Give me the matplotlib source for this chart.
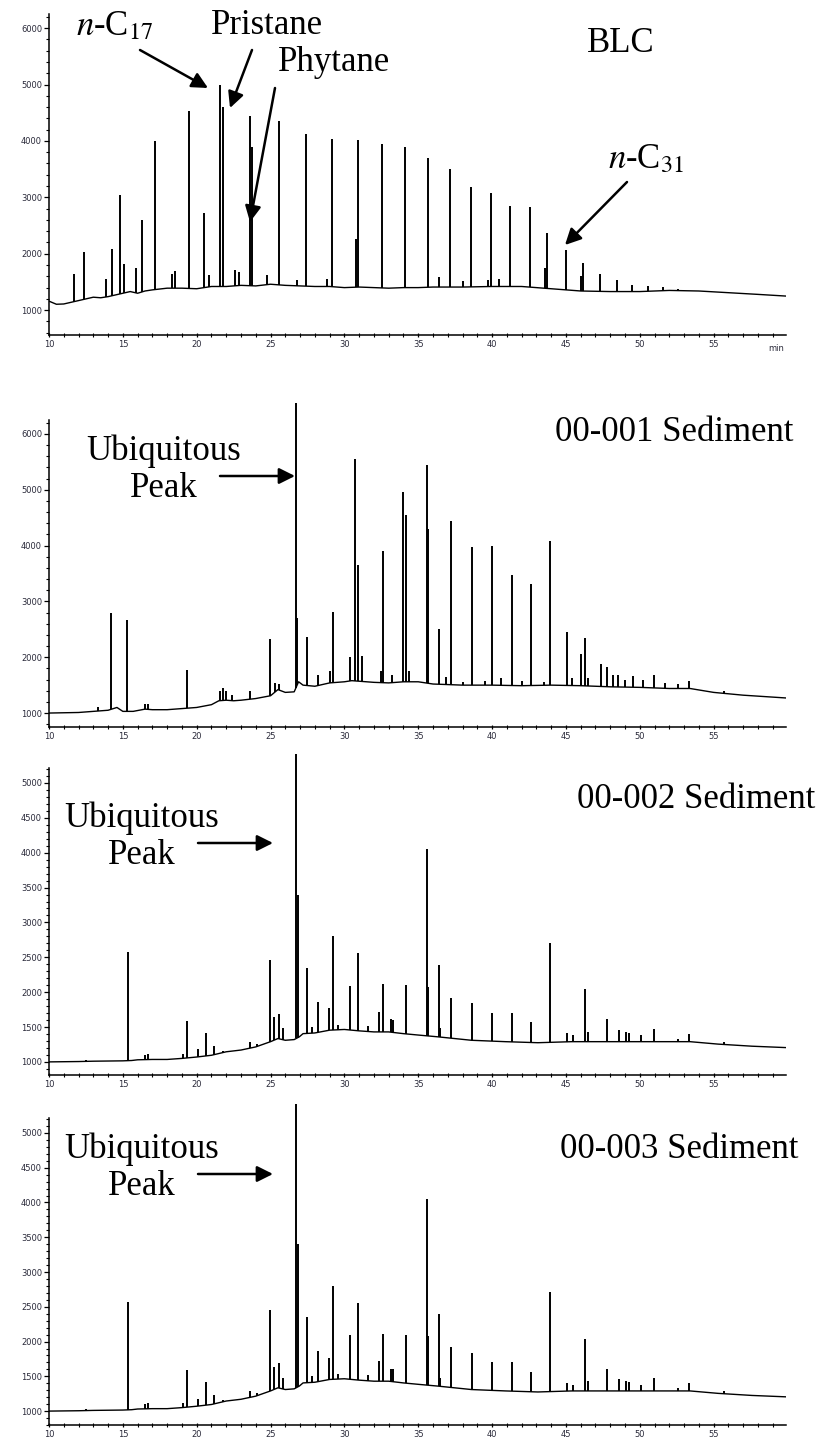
import numpy as np
import matplotlib
matplotlib.use("Agg")
import matplotlib.pyplot as plt
from matplotlib.ticker import MultipleLocator

plt.rcParams['mathtext.fontset'] = 'stix'

# ---------------- data ----------------
# Panel 1: BLC
blc_base_t = [10.0, 10.5, 11.0, 11.5, 12.0, 12.5, 13.0, 13.5, 14.0, 14.5, 15.0, 15.5, 16.0, 16.5,
              17.0, 18.0, 19.0, 20.0, 21.0, 22.0, 23.0, 24.0, 25.0, 26.0, 27.0, 28.0, 29.0, 30.0,
              31.0, 32.0, 33.0, 34.0, 35.0, 36.0, 38.0, 40.0, 42.0, 44.0, 46.0, 48.0, 50.0, 52.0,
              54.0, 56.0, 58.0, 59.9]
blc_base_y = [1160, 1105, 1110, 1140, 1170, 1200, 1230, 1220, 1240, 1270, 1300, 1330, 1300, 1340,
              1360, 1390, 1390, 1380, 1420, 1420, 1440, 1430, 1460, 1440, 1430, 1420, 1420, 1400,
              1410, 1400, 1390, 1400, 1400, 1410, 1410, 1420, 1420, 1380, 1340, 1330, 1330, 1350,
              1340, 1310, 1280, 1250]
blc_peak_t = [11.7, 12.4, 13.87, 14.25, 14.84, 15.1, 15.9, 16.33, 17.2, 18.3, 18.55, 19.46, 20.52,
              20.86, 21.6, 21.75, 22.6, 22.85, 23.64, 23.75, 24.77, 25.57, 26.8, 27.38, 28.8, 29.19,
              30.77, 30.93, 32.58, 34.1, 35.68, 36.4, 37.16, 38.0, 38.54, 39.7, 39.9, 40.5, 41.23,
              42.54, 43.6, 43.74, 44.98, 46.0, 46.16, 47.32, 48.43, 49.49, 50.53, 51.6, 52.57]
blc_peak_h = [1635, 2030, 1560, 2090, 3050, 1820, 1750, 2600, 4000, 1640, 1700, 4530, 2720,
              1620, 5000, 4600, 1720, 1680, 4450, 3900, 1620, 4350, 1540, 4120, 1560, 4040,
              2260, 4010, 3940, 3900, 3690, 1580, 3500, 1520, 3190, 1540, 3070, 1560, 2840,
              2835, 1740, 2370, 2070, 1610, 1835, 1635, 1530, 1450, 1420, 1410, 1380]

# Panel 2: 00-001 Sediment
s1_base_t = [10.0, 12.0, 13.5, 14.0, 14.6, 15.0, 15.7, 16.5, 17.0, 18.0, 19.0, 20.0, 21.0, 21.5,
             22.0, 22.5, 23.0, 24.0, 25.0, 25.5, 26.0, 26.6, 26.9, 27.2, 28.0, 29.0, 30.0, 30.5,
             31.5, 32.0, 33.0, 34.0, 35.0, 36.0, 38.0, 40.0, 42.0, 44.0, 46.0, 48.0, 50.0, 52.0,
             53.4, 55.0, 57.0, 59.9]
s1_base_y = [1000, 1010, 1040, 1050, 1100, 1030, 1030, 1070, 1060, 1060, 1080, 1100, 1150, 1220,
             1230, 1220, 1230, 1260, 1310, 1420, 1370, 1380, 1560, 1500, 1480, 1540, 1560, 1580,
             1560, 1550, 1540, 1560, 1560, 1520, 1500, 1500, 1490, 1500, 1490, 1470, 1460, 1440,
             1440, 1370, 1320, 1270]
s1_peak_t = [13.3, 14.2, 15.3, 16.5, 16.7, 19.35, 21.6, 21.8, 22.0, 22.4, 23.6, 24.93, 25.3, 25.6,
             26.72, 26.8, 27.5, 28.2, 29.0, 29.25, 30.37, 30.72, 30.95, 31.17, 32.5, 32.6, 33.2,
             34.0, 34.2, 34.4, 35.57, 35.68, 36.38, 36.9, 37.22, 38.0, 38.63, 39.5, 40.0, 40.6,
             41.32, 42.0, 42.63, 43.5, 43.9, 45.05, 45.4, 46.0, 46.28, 46.5, 47.36, 47.75, 48.2,
             48.5, 49.0, 49.56, 50.2, 50.96, 51.7, 52.6, 53.3, 55.7]
s1_peak_h = [1100, 2800, 2670, 1160, 1170, 1765, 1390, 1450, 1400, 1330, 1400, 2330, 1540, 1520,
             6550, 2700, 2370, 1690, 1750, 2810, 2000, 5550, 3660, 2015, 1750, 3900, 1680,
             4960, 4540, 1750, 5440, 4300, 2510, 1650, 4435, 1560, 3970, 1580, 3990, 1620,
             3470, 1570, 3320, 1560, 4080, 2460, 1620, 2050, 2340, 1620, 1880, 1825, 1680,
             1690, 1600, 1660, 1590, 1690, 1540, 1520, 1570, 1390]

# Panel 3: 00-002 Sediment
s2_base_t = [10.0, 12.0, 13.0, 15.0, 15.6, 16.0, 17.0, 18.0, 19.0, 20.0, 21.0, 22.0, 23.0, 24.0,
             24.6, 25.0, 25.5, 26.0, 26.6, 26.95, 27.2, 28.0, 29.0, 30.0, 31.0, 32.0, 33.0, 34.0,
             35.0, 36.3, 38.6, 40.9, 43.1, 45.4, 47.6, 49.9, 52.0, 53.4, 55.3, 57.6, 59.9]
s2_base_y = [1000, 1005, 1010, 1015, 1020, 1030, 1035, 1035, 1050, 1070, 1095, 1145, 1170, 1215,
             1260, 1290, 1335, 1310, 1320, 1360, 1405, 1415, 1455, 1465, 1445, 1430, 1430, 1405,
             1385, 1360, 1310, 1290, 1275, 1290, 1290, 1290, 1290, 1290, 1255, 1225, 1205]
s2_peak_t = [12.5, 15.32, 16.5, 16.7, 19.1, 19.34, 20.07, 20.63, 21.15, 21.8, 23.6, 24.1, 24.95,
             25.23, 25.6, 25.86, 26.74, 26.85, 27.49, 27.8, 28.21, 28.96, 29.25, 29.6, 30.38,
             30.95, 31.6, 32.35, 32.6, 33.14, 33.3, 34.19, 35.57, 35.68, 36.38, 36.5, 37.22,
             38.63, 40.0, 41.32, 42.63, 43.9, 45.05, 45.48, 46.28, 46.5, 47.75, 48.6, 49.1,
             49.3, 50.1, 50.96, 52.56, 53.3, 55.7]
s2_peak_h = [1030, 2570, 1100, 1110, 1120, 1590, 1180, 1420, 1225, 1160, 1290, 1260, 2460,
             1640, 1690, 1480, 5410, 3400, 2350, 1500, 1860, 1770, 2800, 1530, 2090,
             2560, 1520, 1720, 2110, 1610, 1600, 2100, 4050, 2080, 2390, 1480, 1920,
             1840, 1700, 1700, 1565, 2710, 1410, 1380, 2040, 1430, 1610, 1455, 1430,
             1420, 1380, 1470, 1325, 1400, 1290]

# Panel 4: 00-003 Sediment
s3_base_t = [10.0, 12.0, 13.0, 15.0, 15.6, 16.0, 17.0, 18.0, 19.0, 20.0, 21.0, 22.0, 23.0, 24.0,
             24.6, 25.0, 25.5, 26.0, 26.6, 26.95, 27.2, 28.0, 29.0, 30.0, 31.0, 32.0, 33.0, 34.0,
             35.0, 36.3, 38.6, 40.9, 43.1, 45.4, 47.6, 49.9, 52.0, 53.4, 55.3, 57.6, 59.9]
s3_base_y = [1000, 1005, 1010, 1015, 1020, 1030, 1035, 1035, 1050, 1070, 1095, 1145, 1170, 1215,
             1260, 1290, 1335, 1310, 1320, 1360, 1405, 1415, 1455, 1465, 1445, 1430, 1430, 1405,
             1385, 1360, 1310, 1290, 1275, 1290, 1290, 1290, 1290, 1290, 1255, 1225, 1205]
s3_peak_t = [12.5, 15.32, 16.5, 16.7, 19.1, 19.34, 20.07, 20.63, 21.15, 21.8, 23.6, 24.1, 24.95,
             25.23, 25.6, 25.86, 26.74, 26.85, 27.49, 27.8, 28.21, 28.96, 29.25, 29.6, 30.38,
             30.95, 31.6, 32.35, 32.6, 33.14, 33.3, 34.19, 35.57, 35.68, 36.38, 36.5, 37.22,
             38.63, 40.0, 41.32, 42.63, 43.9, 45.05, 45.48, 46.28, 46.5, 47.75, 48.6, 49.1,
             49.3, 50.1, 50.96, 52.56, 53.3, 55.7]
s3_peak_h = [1030, 2570, 1100, 1110, 1120, 1590, 1180, 1420, 1225, 1160, 1290, 1260, 2460,
             1640, 1690, 1480, 5420, 3400, 2350, 1500, 1860, 1770, 2800, 1530, 2090,
             2560, 1520, 1720, 2110, 1610, 1600, 2100, 4050, 2080, 2390, 1480, 1920,
             1840, 1700, 1700, 1565, 2710, 1410, 1380, 2040, 1430, 1610, 1455, 1430,
             1420, 1380, 1470, 1325, 1400, 1290]

x_major_ticks = [10, 15, 20, 25, 30, 35, 40, 45, 50, 55]
sample_labels = ["BLC", "00-001 Sediment", "00-002 Sediment", "00-003 Sediment"]

# ---------------- figure ----------------
W, H = 827, 1442
fig = plt.figure(figsize=(W / 100, H / 100), dpi=100)


def fx(x):
    return x / W


def fy(y):
    return 1 - y / H


def axes_px(left, top, right, bottom):
    return fig.add_axes([fx(left), fy(bottom), (right - left) / W, (bottom - top) / H])


panels = [
    dict(box=(49, 14, 786, 335), ylim=(560, 6250), major=1000, minor=200,
         bt=blc_base_t, by=blc_base_y, pt=blc_peak_t, ph=blc_peak_h),
    dict(box=(49, 420, 786, 727), ylim=(750, 6250), major=1000, minor=200,
         bt=s1_base_t, by=s1_base_y, pt=s1_peak_t, ph=s1_peak_h),
    dict(box=(49, 768, 786, 1075), ylim=(812, 5215), major=500, minor=100,
         bt=s2_base_t, by=s2_base_y, pt=s2_peak_t, ph=s2_peak_h),
    dict(box=(49, 1118, 786, 1425), ylim=(800, 5215), major=500, minor=100,
         bt=s3_base_t, by=s3_base_y, pt=s3_peak_t, ph=s3_peak_h),
]

tick_col = '#2a2a3a'
for p in panels:
    ax = axes_px(*p['box'])
    ax.plot(p['bt'], p['by'], color='black', lw=1.0, solid_joinstyle='round')
    base_at_peak = np.interp(p['pt'], p['bt'], p['by'])
    ax.vlines(p['pt'], base_at_peak, p['ph'], color='black', lw=1.4, clip_on=False)
    ax.set_xlim(10, 59.9)
    ax.set_ylim(*p['ylim'])
    for s in ['top', 'right']:
        ax.spines[s].set_visible(False)
    for s in ['left', 'bottom']:
        ax.spines[s].set_linewidth(1.1)
    ax.set_xticks(x_major_ticks)
    ax.xaxis.set_minor_locator(MultipleLocator(1))
    ax.yaxis.set_major_locator(MultipleLocator(p['major']))
    ax.yaxis.set_minor_locator(MultipleLocator(p['minor']))
    ax.set_yticks([v for v in ax.get_yticks() if p['ylim'][0] <= v <= p['ylim'][1]])
    ax.tick_params(axis='both', which='major', labelsize=6, labelcolor=tick_col,
                   width=0.9, length=3.5, pad=1.5)
    ax.tick_params(axis='both', which='minor', width=0.8, length=2.2)
    ax.tick_params(axis='x', which='both', direction='inout')
    ax.patch.set_alpha(0)

# ---------------- annotations ----------------
serif = 'Liberation Serif'
fs = 25


def label(x, y, s, **kw):
    fig.text(fx(x), fy(y), s, family=serif, fontsize=fs, ha='center', va='baseline',
             color='black', **kw)


def arrow(x0, y0, x1, y1):
    fig.add_artist(matplotlib.patches.FancyArrowPatch(
        (fx(x0), fy(y0)), (fx(x1), fy(y1)), transform=fig.transFigure,
        arrowstyle='-|>', mutation_scale=24, lw=1.8, color='black',
        shrinkA=0, shrinkB=0))


# Panel 1
label(115, 35, r'$n$-C$_{17}$')
label(267, 34, 'Pristane')
label(334, 71, 'Phytane')
label(621, 52, sample_labels[0])
label(646, 168, r'$n$-C$_{31}$')
arrow(140, 50, 208, 88)
arrow(252, 50, 230, 108)
arrow(275, 88, 250, 222)
arrow(627, 182, 565, 245)
fig.text(fx(776), fy(351), 'min', fontsize=6, color=tick_col, ha='center', va='baseline')

# Panel 2
label(164, 460, 'Ubiquitous')
label(164, 497, 'Peak')
label(674, 441, sample_labels[1])
arrow(220, 476, 295, 476)

# Panel 3
label(142, 827, 'Ubiquitous')
label(142, 864, 'Peak')
label(696, 808, sample_labels[2])
arrow(198, 843, 273, 843)

# Panel 4
label(142, 1158, 'Ubiquitous')
label(142, 1195, 'Peak')
label(679, 1158, sample_labels[3])
arrow(198, 1174, 273, 1174)

fig.savefig('out.png', dpi=100)
